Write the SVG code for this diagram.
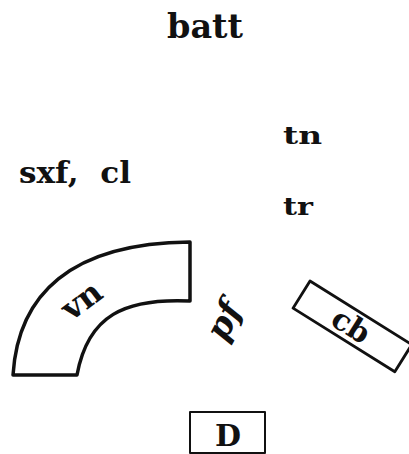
<svg xmlns="http://www.w3.org/2000/svg" width="409" height="454" viewBox="0 0 409 454">
<style>
text{font-family:"DejaVu Serif","Liberation Serif",serif;font-weight:bold;fill:#111}
.shape{fill:#fff;stroke:#111;stroke-linejoin:round}
</style>
<rect width="409" height="454" fill="#fff"/>
<g id="batt"><text x="205" y="38" font-size="34" text-anchor="middle" textLength="76" lengthAdjust="spacingAndGlyphs">batt</text></g>
<g id="tn"><text x="283" y="144" font-size="25" textLength="39" lengthAdjust="spacingAndGlyphs">tn</text></g>
<g id="sxf-cl"><text x="19" y="183" font-size="30" textLength="112" lengthAdjust="spacingAndGlyphs" xml:space="preserve">sxf,  cl</text></g>
<g id="tr"><text x="283" y="215" font-size="25" textLength="30" lengthAdjust="spacingAndGlyphs">tr</text></g>
<g id="vn">
<path class="shape" stroke-width="3.5" d="M13,375 C18,295 70,243 190,242 L190,301 C125,298 88,315 77,375 Z"/>
<text font-size="32" text-anchor="middle" transform="translate(88,309) rotate(-37)">vn</text>
</g>
<g id="pf"><text font-size="34" font-style="italic" text-anchor="middle" transform="translate(234,326) rotate(-62)">pf</text></g>
<g id="cb">
<rect class="shape" stroke-width="2.8" x="0" y="0" width="120" height="32" transform="translate(310,281) rotate(32)"/>
<text font-size="30" text-anchor="middle" transform="translate(351,326) rotate(32) translate(0,10)">cb</text>
</g>
<g id="D">
<rect class="shape" stroke-width="2" x="190" y="412" width="75" height="41"/>
<text x="228" y="446" font-size="30" text-anchor="middle">D</text>
</g>
<g id="connectors"></g>
</svg>
